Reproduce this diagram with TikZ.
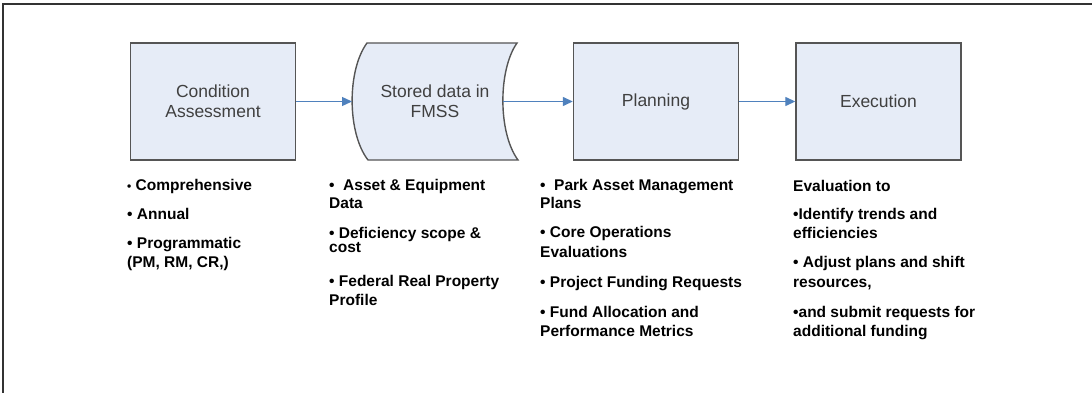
\documentclass[tikz,border=0pt]{standalone}
\usepackage{fontspec}
\setmainfont{Liberation Sans}
\usetikzlibrary{arrows.meta}
\definecolor{boxfill}{RGB}{230,236,247}
\definecolor{boxline}{RGB}{85,85,85}
\definecolor{arrowblue}{RGB}{79,129,189}
\definecolor{boxtext}{RGB}{64,64,64}
\tikzset{
  stepbox/.style={draw=boxline, line width=1.4pt, fill=boxfill, minimum width=165pt, minimum height=117pt, inner sep=0pt, align=center, text=boxtext, font=\fontsize{17.5}{20}\selectfont},
  boxlabel/.style={inner sep=0pt, align=center, text=boxtext, font=\fontsize{17.5}{20}\selectfont},
  flow/.style={draw=arrowblue, line width=1.3pt, -{Triangle[length=10pt,width=9pt]}},
  item/.style={anchor=base west, inner sep=0pt, align=left, font=\bfseries\fontsize{15.5}{19}\selectfont},
  frame/.style={draw=black!80, line width=1.6pt}
}
\begin{document}
\begin{tikzpicture}[x=1pt,y=-1pt]
\useasboundingbox (0,0) rectangle (1092,393);
\draw[frame] (3,395) -- (3,4) -- (1094,4);
% boxes
\node[stepbox] (b1) at (213,101.5) {Condition\\Assessment};
\draw[boxline, line width=1.4pt, fill=boxfill] (367,43) -- (517,43) .. controls (498,70) and (498,133) .. (518,160) -- (368,160) .. controls (347,133) and (347,70) .. (367,43) -- cycle;
\coordinate (b2in) at (352,101.5);
\coordinate (b2out) at (503,101.5);
\node[boxlabel] (b2) at (435,101.5) {Stored data in\\FMSS};
\node[stepbox] (b3) at (656,101.5) {Planning};
\node[stepbox] (b4) at (878.5,101.5) {Execution};
\draw[flow] (b1.east) -- (b2in);
\draw[flow] (b2out) -- (b3.west);
\draw[flow] (b3.east) -- (b4.west);
% column 1 (anchor = baseline of last line)
\node[item] (c1a) at (127,190.5) {{\fontsize{12}{19}\selectfont•} Comprehensive};
\node[item] (c1b) at (127,219.5) {• Annual};
\node[item] (c1c) at (127,267.5) {• Programmatic\\(PM, RM, CR,)};
% column 2
\node[item] (c2a) at (329,208.5) {•\ \ Asset \& Equipment\\[-1pt]Data};
\node[item] (c2b) at (329,252.5) {• Deficiency scope \&\\[-5pt]cost};
\node[item] (c2c) at (329,305.5) {• Federal Real Property\\Profile};
% column 3
\node[item] (c3a) at (540,208.5) {•\ \ Park Asset Management\\[-1pt]Plans};
\node[item] (c3b) at (540,257.5) {• Core Operations\\[1pt]Evaluations};
\node[item] (c3c) at (540,287.5) {• Project Funding Requests};
\node[item] (c3d) at (540,336.5) {• Fund Allocation and\\Performance Metrics};
% column 4
\node[item] (c4a) at (793,191.5) {Evaluation to};
\node[item] (c4b) at (793,238.5) {•Identify trends and\\efficiencies};
\node[item] (c4c) at (793,287.5) {• Adjust plans and shift\\[1pt]resources,};
\node[item] (c4d) at (793,336.5) {•and submit requests for\\additional funding};
\end{tikzpicture}
\end{document}
